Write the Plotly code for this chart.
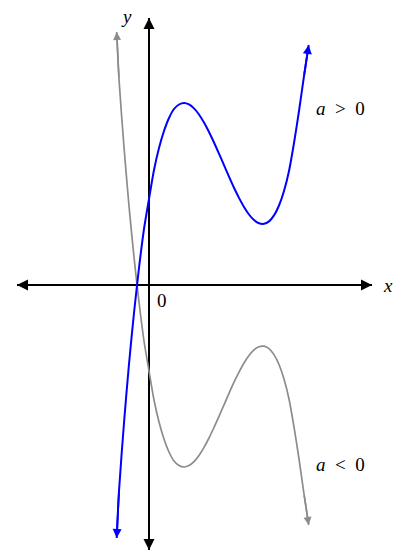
import plotly.graph_objects as go

# Curve samples (math units)
x_vals = [-3.23, -3.0, -2.5, -2.0, -1.5, -1.0, -0.5, 0.0, 0.5, 1.0, 1.5, 2.0, 2.5,
          3.0, 3.5, 4.0, 4.5, 5.0, 5.5, 6.0, 6.5, 7.0, 7.5, 8.0, 8.5, 9.0, 9.5,
          10.0, 10.5, 11.0, 11.5, 12.0, 12.5, 13.0, 13.5, 14.0, 14.5, 15.0, 15.5, 15.97]
y_pos = [-25.3, -20.6, -13.8, -7.9, -2.8, 1.7, 5.6, 8.6, 11.5, 13.7, 15.4, 16.7, 17.6,
         18.05, 18.2, 18.06, 17.66, 17.05, 16.24, 15.3, 14.25, 13.13, 11.98, 10.83, 9.72,
         8.71, 7.8, 7.05, 6.49, 6.17, 6.12, 6.36, 6.96, 7.95, 9.4, 11.4, 14.2, 17.4, 20.9, 24.0]
y_neg = [25.3, 20.6, 13.8, 7.9, 2.8, -1.7, -5.6, -8.6, -11.5, -13.7, -15.4, -16.7, -17.6,
         -18.05, -18.2, -18.06, -17.66, -17.05, -16.24, -15.3, -14.25, -13.13, -11.98, -10.83, -9.72,
         -8.71, -7.8, -7.05, -6.49, -6.17, -6.12, -6.36, -6.96, -7.95, -9.4, -11.4, -14.2, -17.4, -20.9, -24.0]
series_labels = ["<i>a</i> &gt; 0", "<i>a</i> &lt; 0"]
axis_labels = ["<i>x</i>", "<i>y</i>"]
tick_labels = ["0"]

BLUE = "#0000ff"
GRAY = "#8c8c8c"
X_MIN, X_MAX = -13.2, 22.3
Y_MIN, Y_MAX = -26.5, 26.7

fig = go.Figure()

# axes
fig.add_trace(go.Scatter(x=[X_MIN, X_MAX], y=[0, 0], mode="lines",
                         line=dict(color="black", width=2), hoverinfo="skip"))
fig.add_trace(go.Scatter(x=[0, 0], y=[Y_MIN, Y_MAX], mode="lines",
                         line=dict(color="black", width=2), hoverinfo="skip"))

# curves
fig.add_trace(go.Scatter(x=x_vals, y=y_neg, mode="lines",
                         line=dict(color=GRAY, width=1.7, shape="spline", smoothing=0.8),
                         hoverinfo="skip"))
fig.add_trace(go.Scatter(x=x_vals, y=y_pos, mode="lines",
                         line=dict(color=BLUE, width=2, shape="spline", smoothing=0.8),
                         hoverinfo="skip"))

ann = []

def arrow(x, y, ax, ay, color, w, size):
    ann.append(dict(x=x, y=y, ax=ax, ay=ay, xref="x", yref="y", axref="x", ayref="y",
                    showarrow=True, arrowhead=2, arrowsize=size, arrowwidth=w,
                    arrowcolor=color, text="", standoff=0, startstandoff=0))

# axis arrows
arrow(X_MAX, 0, X_MAX - 1.5, 0, "black", 2, 1.1)
arrow(X_MIN, 0, X_MIN + 1.5, 0, "black", 2, 1.1)
arrow(0, Y_MAX, 0, Y_MAX - 1.5, "black", 2, 1.1)
arrow(0, Y_MIN, 0, Y_MIN + 1.5, "black", 2, 1.1)
# curve arrows
arrow(x_vals[-1], y_pos[-1], x_vals[-2], y_pos[-2], BLUE, 1.8, 1.0)
arrow(x_vals[0], y_pos[0], x_vals[1], y_pos[1], BLUE, 1.8, 1.0)
arrow(x_vals[-1], y_neg[-1], x_vals[-2], y_neg[-2], GRAY, 1.6, 1.0)
arrow(x_vals[0], y_neg[0], x_vals[1], y_neg[1], GRAY, 1.6, 1.0)

font = dict(family="Liberation Serif", size=19, color="black")
ann.append(dict(x=23.9, y=0, xref="x", yref="y", text=axis_labels[0], showarrow=False,
                font=font))
ann.append(dict(x=-2.3, y=26.9, xref="x", yref="y", text=axis_labels[1], showarrow=False,
                font=font))
ann.append(dict(x=1.3, y=-1.5, xref="x", yref="y", text=tick_labels[0], showarrow=False,
                font=font))
ann.append(dict(x=19.1, y=17.7, xref="x", yref="y",
                text=series_labels[0].replace(" ", "&nbsp;&nbsp;"), showarrow=False, font=font))
ann.append(dict(x=19.1, y=-17.9, xref="x", yref="y",
                text=series_labels[1].replace(" ", "&nbsp;&nbsp;"), showarrow=False, font=font))

fig.update_layout(
    width=406, height=553,
    margin=dict(l=0, r=0, t=0, b=0),
    paper_bgcolor="white", plot_bgcolor="white",
    showlegend=False,
    xaxis=dict(range=[-14.9, 25.7], visible=False, fixedrange=True),
    yaxis=dict(range=[-26.8, 28.5], visible=False, fixedrange=True),
    annotations=ann,
)

fig.write_html("out.html", post_script="document.body.style.margin='0px';",
               config={"displayModeBar": False})
